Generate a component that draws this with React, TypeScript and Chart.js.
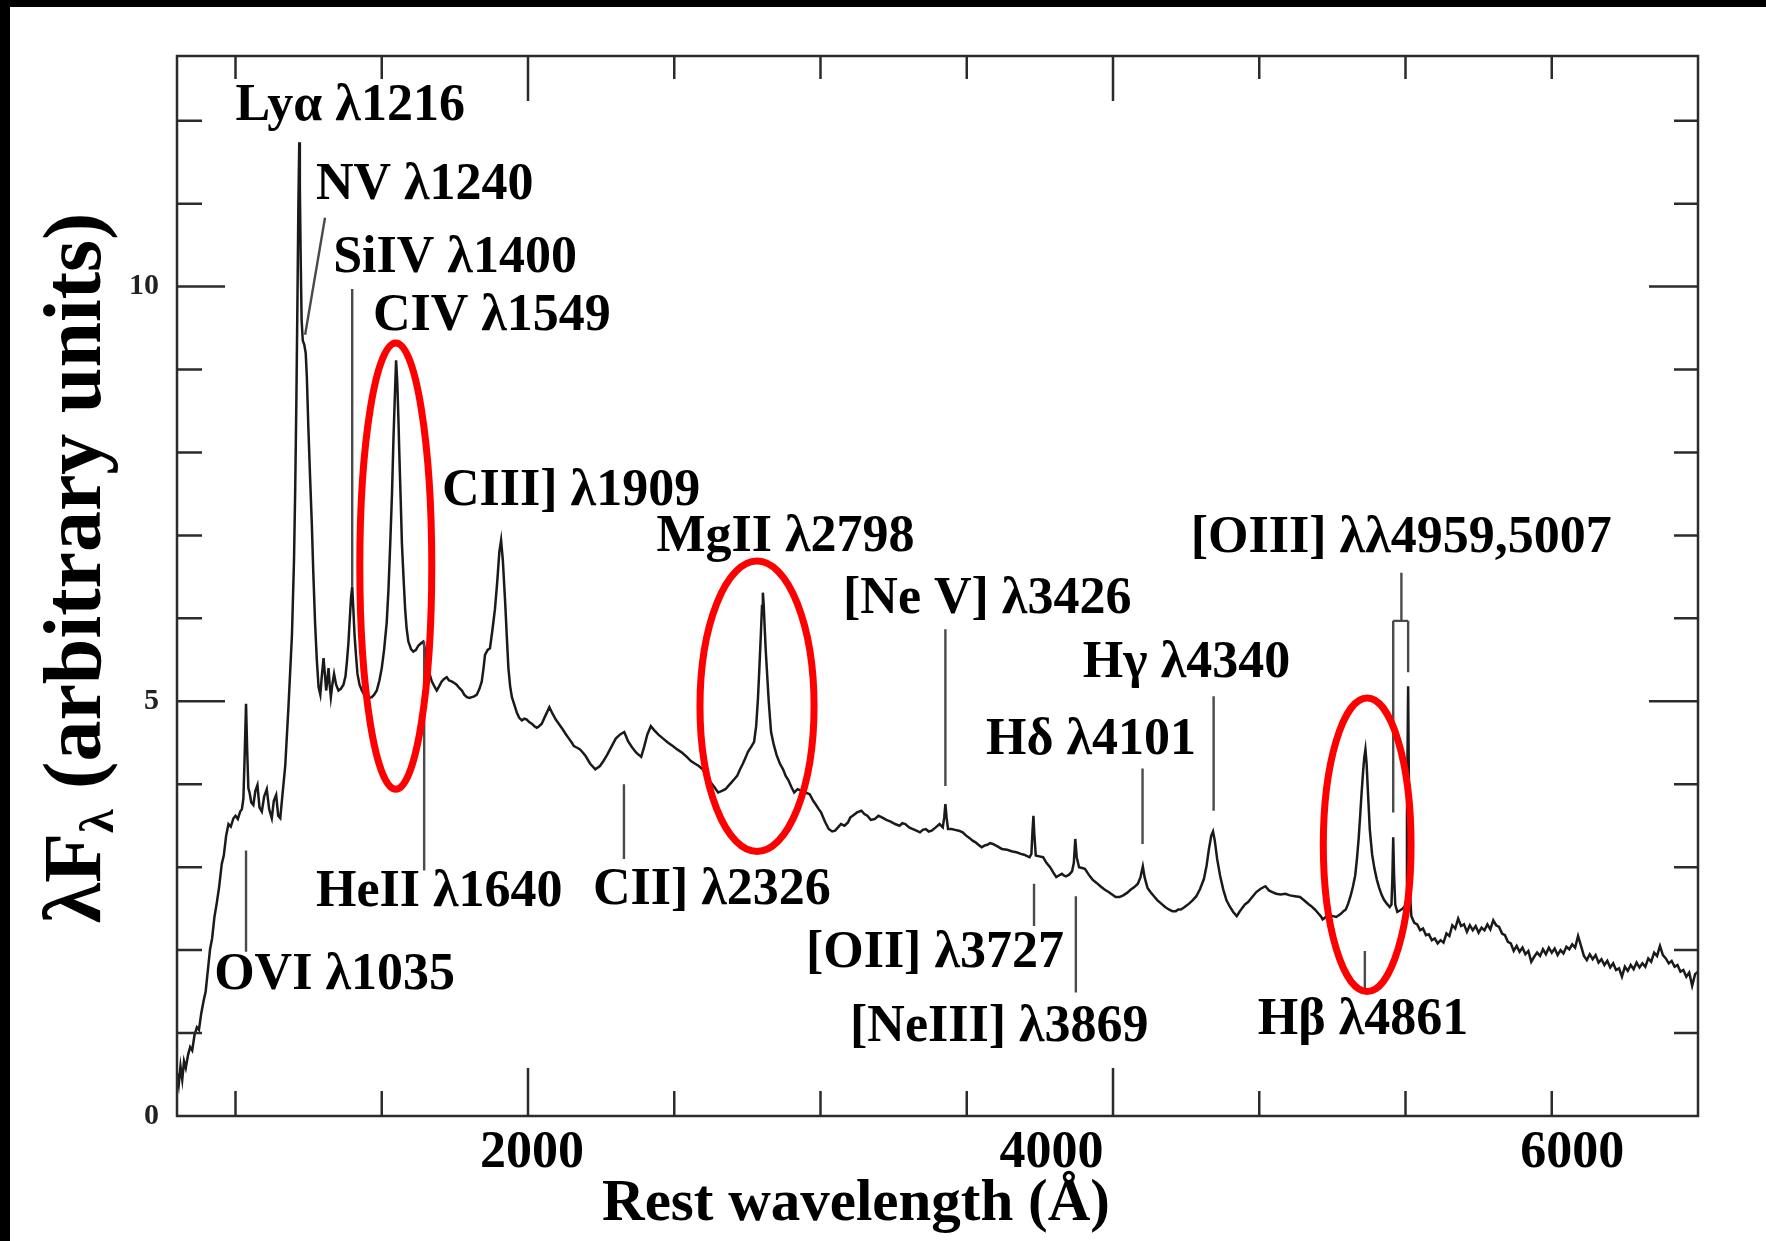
import React, { useEffect, useRef } from "react";
import { Chart, registerables } from "chart.js";

Chart.register(...registerables);

// ---------- spectrum (rest wavelength in Å, λFλ in arbitrary units) ----------
const wavelength: number[] = [
  800, 806, 812, 818, 824, 830, 838, 845, 852, 860, 868, 875, 883, 891, 898, 905, 913, 920, 928, 936,
  944, 953, 960, 968, 976, 984, 993, 1000, 1008, 1016, 1022, 1027, 1031, 1036, 1040, 1044, 1048, 1054, 1061, 1068,
  1075, 1082, 1090, 1098, 1107, 1115, 1124, 1131, 1139, 1146, 1153, 1160, 1170, 1181, 1193, 1200, 1204, 1208, 1212, 1215,
  1218, 1220, 1223, 1226, 1230, 1235, 1240, 1244, 1249, 1255, 1261, 1266, 1272, 1278, 1284, 1290, 1295, 1301, 1305, 1310,
  1314, 1318, 1322, 1326, 1331, 1337, 1344, 1352, 1360, 1369, 1376, 1381, 1386, 1390, 1395, 1399, 1403, 1407, 1412, 1417,
  1424, 1432, 1440, 1449, 1457, 1466, 1474, 1483, 1492, 1500, 1508, 1517, 1523, 1529, 1535, 1540, 1545, 1549, 1553, 1557,
  1560, 1565, 1569, 1575, 1580, 1585, 1591, 1600, 1608, 1617, 1625, 1634, 1642, 1648, 1654, 1662, 1671, 1680, 1688, 1696,
  1705, 1713, 1722, 1730, 1739, 1748, 1756, 1765, 1774, 1782, 1791, 1800, 1808, 1816, 1825, 1834, 1842, 1848, 1853, 1862,
  1870, 1878, 1887, 1895, 1902, 1908, 1914, 1922, 1928, 1933, 1939, 1945, 1954, 1962, 1970, 1979, 1988, 1996, 2004, 2013,
  2022, 2030, 2038, 2047, 2056, 2064, 2073, 2084, 2095, 2107, 2119, 2130, 2140, 2150, 2157, 2168, 2178, 2188, 2197, 2212,
  2230, 2246, 2258, 2270, 2285, 2300, 2315, 2329, 2342, 2355, 2370, 2387, 2397, 2408, 2420, 2432, 2445, 2462, 2479, 2495,
  2510, 2527, 2543, 2557, 2570, 2584, 2597, 2611, 2625, 2638, 2650, 2663, 2675, 2685, 2695, 2705, 2715, 2725, 2735, 2745,
  2752, 2763, 2773, 2780, 2786, 2791, 2796, 2800, 2803, 2806, 2809, 2813, 2816, 2823, 2831, 2840, 2850, 2861, 2872, 2881,
  2890, 2900, 2910, 2922, 2935, 2948, 2963, 2975, 2985, 2994, 3002, 3015, 3028, 3040, 3050, 3060, 3070, 3082, 3094, 3102,
  3110, 3125, 3140, 3150, 3160, 3172, 3185, 3198, 3210, 3225, 3240, 3255, 3270, 3280, 3290, 3303, 3316, 3328, 3340, 3350,
  3360, 3370, 3380, 3394, 3407, 3418, 3423, 3427, 3431, 3436, 3448, 3460, 3473, 3486, 3498, 3510, 3520, 3530, 3540, 3551,
  3560, 3570, 3580, 3589, 3605, 3620, 3638, 3656, 3670, 3685, 3696, 3708, 3715, 3721, 3725, 3728, 3731, 3736, 3748, 3761,
  3773, 3785, 3795, 3806, 3815, 3825, 3832, 3839, 3850, 3860, 3866, 3871, 3876, 3884, 3894, 3904, 3917, 3930, 3944, 3957,
  3971, 3985, 3997, 4009, 4022, 4035, 4048, 4061, 4073, 4085, 4094, 4102, 4108, 4118, 4128, 4140, 4152, 4165, 4178, 4191,
  4203, 4215, 4223, 4232, 4245, 4260, 4272, 4285, 4298, 4311, 4320, 4328, 4336, 4342, 4348, 4356, 4366, 4377, 4388, 4400,
  4411, 4423, 4432, 4440, 4451, 4462, 4476, 4490, 4505, 4521, 4533, 4545, 4558, 4573, 4589, 4605, 4622, 4639, 4650, 4660,
  4670, 4678, 4690, 4700, 4710, 4717, 4728, 4740, 4752, 4763, 4772, 4780, 4788, 4796, 4804, 4812, 4820, 4828, 4834, 4840,
  4845, 4850, 4855, 4859, 4863, 4867, 4871, 4878, 4886, 4894, 4902, 4910, 4918, 4926, 4936, 4946, 4952, 4955, 4958, 4961,
  4965, 4972, 4982, 4990, 4998, 5002, 5005, 5009, 5012, 5015, 5020, 5030, 5040, 5050, 5060, 5070, 5080, 5090, 5100, 5110,
  5120, 5130, 5140, 5150, 5160, 5170, 5180, 5190, 5200, 5210, 5220, 5230, 5240, 5250, 5260, 5270, 5280, 5290, 5300, 5310,
  5320, 5330, 5340, 5350, 5360, 5370, 5380, 5390, 5400, 5410, 5420, 5430, 5440, 5450, 5460, 5470, 5480, 5490, 5500, 5510,
  5520, 5530, 5540, 5550, 5560, 5570, 5580, 5590, 5600, 5610, 5620, 5630, 5640, 5650, 5660, 5670, 5680, 5690, 5700, 5710,
  5720, 5730, 5740, 5750, 5760, 5770, 5780, 5790, 5800, 5810, 5820, 5830, 5840, 5850, 5860, 5870, 5880, 5890, 5900, 5910,
  5920, 5930, 5940, 5950, 5960, 5970, 5980, 5990, 6000,
];

const flux: number[] = [
  0.52, 0.38, 0.6, 0.44, 0.66, 0.58, 0.74, 0.83, 0.79, 0.98, 1.07, 1.04, 1.24, 1.39, 1.5, 1.74, 2.01, 2.14, 2.4, 2.57,
  2.76, 3.04, 3.14, 3.38, 3.52, 3.49, 3.59, 3.62, 3.58, 3.67, 3.7, 3.83, 4.3, 4.97, 4.4, 3.95, 3.9, 3.78, 3.75, 3.92,
  3.99, 3.72, 3.67, 3.85, 3.94, 3.7, 3.59, 3.8, 3.87, 3.62, 3.59, 3.85, 4.22, 4.93, 5.8, 6.7, 7.53, 8.6, 9.9, 11.0,
  11.74, 11.2, 10.3, 9.6, 9.35, 9.3, 9.2, 8.9, 8.31, 7.7, 7.13, 6.55, 5.95, 5.5, 5.17, 5.08, 5.3, 5.52, 5.35, 5.13,
  5.25, 5.4, 5.2, 5.05, 5.2, 5.33, 5.2, 5.13, 5.15, 5.2, 5.3, 5.48, 5.7, 5.95, 6.25, 6.38, 6.1, 5.8, 5.55, 5.33,
  5.2, 5.13, 5.08, 5.05, 5.04, 5.05, 5.08, 5.13, 5.25, 5.4, 5.62, 5.95, 6.35, 6.9, 7.5, 8.16, 8.7, 9.11, 8.85, 8.4,
  8.0, 7.4, 6.9, 6.45, 6.11, 5.88, 5.72, 5.63, 5.6, 5.62, 5.67, 5.7, 5.72, 5.62, 5.48, 5.35, 5.24, 5.18, 5.13, 5.18,
  5.24, 5.27, 5.29, 5.25, 5.24, 5.22, 5.2, 5.16, 5.13, 5.08, 5.05, 5.04, 5.05, 5.06, 5.08, 5.15, 5.24, 5.4, 5.56, 5.62,
  5.64, 5.85, 6.11, 6.45, 6.8, 6.94, 6.7, 6.19, 5.75, 5.4, 5.18, 5.05, 4.95, 4.86, 4.8, 4.77, 4.79, 4.78, 4.75, 4.73,
  4.7, 4.68, 4.7, 4.73, 4.8, 4.86, 4.93, 4.85, 4.78, 4.72, 4.66, 4.6, 4.55, 4.5, 4.46, 4.44, 4.42, 4.38, 4.34, 4.25,
  4.18, 4.22, 4.28, 4.35, 4.45, 4.55, 4.6, 4.63, 4.52, 4.45, 4.38, 4.33, 4.45, 4.6, 4.7, 4.65, 4.6, 4.55, 4.5, 4.46,
  4.42, 4.38, 4.33, 4.28, 4.25, 4.22, 4.18, 4.1, 4.02, 3.96, 3.9, 3.92, 3.94, 3.98, 4.02, 4.06, 4.1, 4.18, 4.25, 4.33,
  4.39, 4.45, 4.51, 4.7, 5.02, 5.4, 5.8, 6.15, 6.31, 6.15, 5.9, 5.6, 5.42, 5.0, 4.63, 4.48, 4.35, 4.25, 4.18, 4.1,
  4.05, 3.97, 3.9, 3.94, 3.92, 3.9, 3.88, 3.8, 3.75, 3.7, 3.66, 3.55, 3.46, 3.43, 3.44, 3.48, 3.52, 3.5, 3.54, 3.6,
  3.62, 3.66, 3.68, 3.64, 3.62, 3.57, 3.58, 3.62, 3.6, 3.57, 3.55, 3.52, 3.5, 3.53, 3.52, 3.48, 3.46, 3.44, 3.42, 3.45,
  3.46, 3.43, 3.44, 3.48, 3.52, 3.48, 3.6, 3.76, 3.6, 3.46, 3.46, 3.45, 3.44, 3.42, 3.38, 3.35, 3.32, 3.3, 3.27, 3.24,
  3.26, 3.27, 3.29, 3.28, 3.25, 3.22, 3.21, 3.19, 3.18, 3.16, 3.15, 3.13, 3.12, 3.16, 3.45, 3.62, 3.4, 3.14, 3.13, 3.12,
  3.05, 3.0, 2.94, 2.88, 2.9, 2.92, 2.9, 2.89, 2.91, 2.95, 3.05, 3.34, 3.12, 3.0, 2.99, 2.98, 2.91, 2.85, 2.81, 2.77,
  2.73, 2.7, 2.67, 2.64, 2.64, 2.66, 2.69, 2.73, 2.76, 2.8, 2.88, 3.01, 2.88, 2.75, 2.7, 2.65, 2.6, 2.56, 2.52, 2.49,
  2.47, 2.47, 2.49, 2.49, 2.52, 2.56, 2.6, 2.65, 2.74, 2.86, 3.02, 3.22, 3.38, 3.43, 3.32, 3.1, 2.9, 2.73, 2.6, 2.52,
  2.46, 2.41, 2.46, 2.5, 2.55, 2.58, 2.64, 2.7, 2.74, 2.77, 2.72, 2.7, 2.68, 2.67, 2.68, 2.66, 2.65, 2.64, 2.61, 2.58,
  2.55, 2.53, 2.49, 2.45, 2.41, 2.37, 2.4, 2.42, 2.41, 2.4, 2.42, 2.44, 2.47, 2.49, 2.56, 2.65, 2.76, 2.9, 3.1, 3.35,
  3.62, 3.9, 4.15, 4.32, 4.42, 4.25, 3.95, 3.45, 3.15, 2.98, 2.85, 2.75, 2.67, 2.61, 2.56, 2.52, 2.55, 2.85, 3.36, 2.9,
  2.55, 2.46, 2.48, 2.5, 2.53, 2.6, 3.6, 5.18, 3.8, 2.7, 2.41, 2.33, 2.31, 2.24, 2.26, 2.18, 2.19, 2.12, 2.14, 2.08,
  2.12, 2.09, 2.2, 2.17, 2.3, 2.26, 2.38, 2.29, 2.31, 2.22, 2.3, 2.24, 2.29, 2.21, 2.27, 2.24, 2.31, 2.25, 2.36, 2.3,
  2.28, 2.2, 2.18, 2.1, 2.08, 1.99, 2.05, 1.98, 2.03, 1.95, 1.99, 1.86, 1.92, 1.97, 1.93, 2.01, 1.95, 2.03, 1.97, 2.02,
  1.94, 2.0, 1.96, 2.04, 2.01, 2.07, 2.03, 2.17, 2.05, 1.93, 1.88, 1.95, 1.89, 1.94, 1.85, 1.89, 1.82, 1.87, 1.79, 1.84,
  1.76, 1.78, 1.68, 1.8, 1.75, 1.82, 1.77, 1.85, 1.79, 1.84, 1.8, 1.9, 1.86, 1.97, 1.93, 2.05, 1.94, 1.9, 1.84, 1.87,
  1.8, 1.82, 1.74, 1.76, 1.68, 1.73, 1.57, 1.71, 1.74,
];

// ---------- axes ----------
const xMin = 800;
const xMax = 6000;
const yMin = 0;
const yMax = 12.78;
const xTickMarks: number[] = [1000, 1500, 2000, 2500, 3000, 3500, 4000, 4500, 5000, 5500];
const xMajorTicks: number[] = [2000, 4000];
const yTickMarks: number[] = [1, 2, 3, 4, 5, 6, 7, 8, 9, 10, 11, 12];
const yMajorTicks: number[] = [5, 10];
const yTickValues: number[] = [0, 5, 10];
const yTickLabels: string[] = ["0", "5", "10"];
const xTickLabels: string[] = ["2000", "4000", "6000"];
// wavelength under which each printed x label sits in the figure
const xTickLabelAt: number[] = [2014, 3790, 5570];

// ---------- emission-line identifications ----------
const lineNames: string[] = [
  "Lyα λ1216", "NV λ1240", "SiIV λ1400", "CIV λ1549", "CIII] λ1909", "MgII λ2798",
  "[Ne V] λ3426", "Hγ λ4340", "Hδ λ4101", "[OIII] λλ4959,5007", "HeII λ1640", "CII] λ2326",
  "[OII] λ3727", "OVI λ1035", "[NeIII] λ3869", "Hβ λ4861",
];
const labelLeftAt: number[] = [1000, 1275, 1334, 1470, 1706, 2439, 3077, 3897, 3566, 4266, 1275, 2222, 2950, 927, 3101, 4495];
const labelBaseAt: number[] = [12.01, 11.05, 10.18, 9.48, 7.37, 6.81, 6.07, 5.29, 4.36, 6.8, 2.53, 2.55, 1.8, 1.53, 0.91, 0.99];

// marker segments: [λ1, f1, λ2, f2]
const markerSegments: number[][] = [
  [1036, 3.2, 1036, 1.98],
  [1306, 10.83, 1238, 9.42],
  [1399, 9.97, 1399, 6.38],
  [1645, 5.72, 1645, 2.96],
  [2328, 4.0, 2328, 3.1],
  [3427, 5.87, 3427, 3.98],
  [3730, 2.8, 3730, 2.29],
  [3873, 2.65, 3873, 1.49],
  [4101, 4.19, 4101, 3.28],
  [4344, 5.06, 4344, 3.68],
  [4861, 1.99, 4861, 1.53],
  [4986, 6.55, 4986, 5.97],
  [4958, 5.97, 5009, 5.97],
  [4958, 5.97, 4958, 3.66],
  [5009, 5.97, 5009, 5.35],
];

// highlighted lines: [centre λ, centre flux, half-width Å, half-height flux]
const highlightEllipses: number[][] = [
  [1548, 6.63, 123, 2.69],
  [2783, 4.94, 195, 1.75],
  [4869, 3.27, 150, 1.77],
];

const SERIF = '"Liberation Serif", "DejaVu Serif", "Times New Roman", serif';

const annotatePlugin = {
  id: "annotate",
  beforeDraw(chart: any) {
    const { ctx, width, height } = chart;
    ctx.save();
    ctx.fillStyle = "#ffffff";
    ctx.fillRect(0, 0, width, height);
    ctx.fillStyle = "#000000";
    ctx.fillRect(0, 0, width, 7);
    ctx.fillRect(0, 0, 10, height);
    ctx.restore();
  },
  afterDraw(chart: any) {
    const { ctx, chartArea: a } = chart;
    const xs = chart.scales.x;
    const ys = chart.scales.y;
    const px = (v: number) => xs.getPixelForValue(v);
    const py = (v: number) => ys.getPixelForValue(v);
    ctx.save();

    // frame
    ctx.strokeStyle = "#2b2b2b";
    ctx.lineWidth = 2.5;
    ctx.strokeRect(a.left, a.top, a.right - a.left, a.bottom - a.top);

    // inward tick marks
    ctx.beginPath();
    for (const v of xTickMarks) {
      const major = xMajorTicks.includes(v);
      const X = px(v);
      ctx.moveTo(X, a.bottom);
      ctx.lineTo(X, a.bottom - (major ? 48 : 25));
      ctx.moveTo(X, a.top);
      ctx.lineTo(X, a.top + (major ? 45 : 23));
    }
    for (const v of yTickMarks) {
      const major = yMajorTicks.includes(v);
      const Y = py(v);
      ctx.moveTo(a.left, Y);
      ctx.lineTo(a.left + (major ? 48 : 25), Y);
      ctx.moveTo(a.right, Y);
      ctx.lineTo(a.right - (major ? 49 : 24), Y);
    }
    ctx.stroke();

    // identification markers
    ctx.strokeStyle = "#4a4a4a";
    ctx.lineWidth = 2.4;
    ctx.beginPath();
    for (const s of markerSegments) {
      ctx.moveTo(px(s[0]), py(s[1]));
      ctx.lineTo(px(s[2]), py(s[3]));
    }
    ctx.stroke();

    // red ellipses
    ctx.strokeStyle = "#ff0000";
    ctx.lineWidth = 7;
    for (const e of highlightEllipses) {
      const cx = px(e[0]);
      const cy = py(e[1]);
      const rx = Math.abs(px(e[0] + e[2]) - cx);
      const ry = Math.abs(py(e[1] + e[3]) - cy);
      ctx.beginPath();
      ctx.ellipse(cx, cy, rx, ry, 0, 0, Math.PI * 2);
      ctx.stroke();
    }

    // line labels
    ctx.fillStyle = "#000000";
    ctx.font = `bold 52px ${SERIF}`;
    ctx.textAlign = "left";
    ctx.textBaseline = "alphabetic";
    lineNames.forEach((name, i) => {
      ctx.fillText(name, px(labelLeftAt[i]), py(labelBaseAt[i]));
    });

    // x title
    ctx.font = `bold 59px ${SERIF}`;
    ctx.textAlign = "center";
    ctx.fillText("Rest wavelength (Å)", a.left + 679, a.bottom + 104);

    // y title with subscript
    ctx.translate(a.left - 77, (a.top + a.bottom) / 2 - 18);
    ctx.rotate(-Math.PI / 2);
    ctx.textAlign = "left";
    const parts: [string, string, number][] = [
      ["λF", `bold 82px ${SERIF}`, 0],
      ["λ", `bold 48px ${SERIF}`, 13],
      [" (arbitrary units)", `bold 82px ${SERIF}`, 0],
    ];
    let total = 0;
    for (const p of parts) {
      ctx.font = p[1];
      total += ctx.measureText(p[0]).width;
    }
    let x = -total / 2;
    for (const p of parts) {
      ctx.font = p[1];
      ctx.fillText(p[0], x, p[2]);
      x += ctx.measureText(p[0]).width;
    }
    ctx.restore();
  },
};

export default function App() {
  const canvasRef = useRef<HTMLCanvasElement | null>(null);

  useEffect(() => {
    document.body.style.margin = "0";
    const canvas = canvasRef.current;
    if (!canvas) return;
    const points = wavelength.map((w, i) => ({ x: w, y: flux[i] }));
    const chart = new Chart(canvas, {
      type: "line",
      data: {
        datasets: [
          {
            data: points,
            xAxisID: "x",
            yAxisID: "y",
            borderColor: "#1a1a1a",
            borderWidth: 2.5,
            pointRadius: 0,
            tension: 0,
            fill: false,
          },
        ],
      },
      options: {
        animation: false,
        responsive: false,
        maintainAspectRatio: false,
        devicePixelRatio: 1,
        parsing: false,
        layout: { padding: { top: 56, right: 68, left: 0, bottom: 0 } },
        plugins: { legend: { display: false }, tooltip: { enabled: false }, title: { display: false } },
        scales: {
          x: { type: "linear", min: xMin, max: xMax, display: false },
          xl: {
            type: "linear",
            position: "bottom",
            min: xMin,
            max: xMax,
            grid: { display: false, drawTicks: false },
            border: { display: false },
            afterBuildTicks: (s: any) => {
              s.ticks = xTickLabelAt.map((v) => ({ value: v }));
            },
            afterFit: (s: any) => {
              s.height = 125;
            },
            ticks: {
              autoSkip: false,
              maxRotation: 0,
              padding: 6,
              color: "#000000",
              font: { family: SERIF, size: 52, weight: "bold" },
              callback: (_v: any, i: number) => xTickLabels[i] ?? "",
            },
          },
          y: {
            type: "linear",
            position: "left",
            min: yMin,
            max: yMax,
            grid: { display: false, drawTicks: false },
            border: { display: false },
            afterBuildTicks: (s: any) => {
              s.ticks = yTickValues.map((v) => ({ value: v }));
            },
            afterFit: (s: any) => {
              s.width = 177;
            },
            ticks: {
              padding: 18,
              color: "#222222",
              font: { family: SERIF, size: 30, weight: "bold" },
              callback: (_v: any, i: number) => yTickLabels[i] ?? "",
            },
          },
        },
      } as any,
      plugins: [annotatePlugin],
    });
    return () => chart.destroy();
  }, []);

  return (
    <div style={{ position: "fixed", left: 0, top: 0, width: 1766, height: 1241, background: "#fff" }}>
      <canvas ref={canvasRef} width={1766} height={1241} style={{ width: 1766, height: 1241, display: "block" }} />
    </div>
  );
}
